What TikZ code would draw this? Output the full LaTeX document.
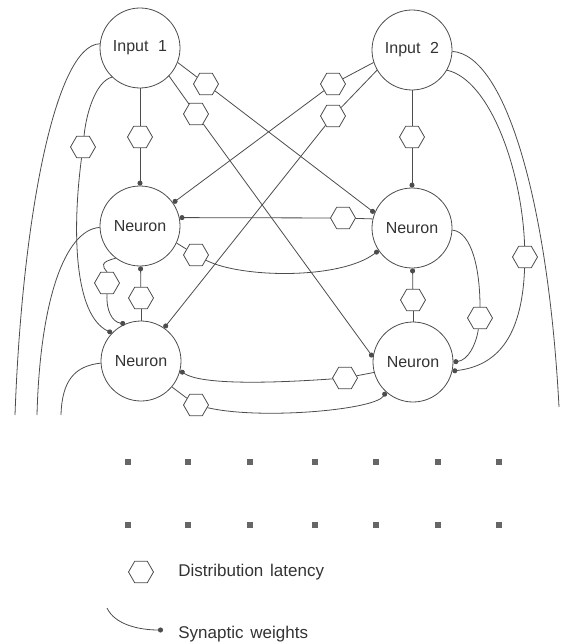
\documentclass[tikz,border=0pt]{standalone}
\usepackage{fontspec}
\setmainfont{Liberation Sans}
\usetikzlibrary{shapes.geometric,arrows.meta}
\begin{document}
\begin{tikzpicture}[x=1pt,y=-1pt,
  line width=0.8pt, draw=black!70,
  neuron/.style={circle,draw=black!70,line width=0.8pt,minimum size=80pt,inner sep=0pt,font=\fontsize{16}{19}\selectfont,text=black!80},
  hexa/.style={regular polygon,regular polygon sides=6,draw=black!70,fill=white,minimum size=25pt,inner sep=0pt},
  syn/.style={-{Circle[length=5pt,width=5pt]}},
  sq/.style={rectangle,fill=black!60,minimum size=6pt,inner sep=0pt},
  legend/.style={anchor=west,font=\fontsize{17}{20}\selectfont,text=black!80,inner sep=0pt}
]
\useasboundingbox (0,0) rectangle (563,644);

% neurons
\node[neuron] (in1) at (140,48) {Input\hspace{0.6em}1};
\node[neuron] (in2) at (412,50) {Input\hspace{0.6em}2};
\node[neuron] (n1) at (140,226) {Neuron};
\node[neuron] (n2) at (412,228) {Neuron};
\node[neuron] (n3) at (141,361) {Neuron};
\node[neuron] (n4) at (413,362) {Neuron};

% latency hexagons
\node[hexa] (h1) at (140,137) {};
\node[hexa] (h2) at (196,114) {};
\node[hexa] (h3) at (206,84) {};
\node[hexa] (h5) at (83,147) {};
\node[hexa] (h6) at (412,137) {};
\node[hexa] (h7) at (333,84) {};
\node[hexa] (h8) at (333,116) {};
\node[hexa] (h10) at (525,257) {};
\node[hexa] (h11) at (343,218) {};
\node[hexa] (h12) at (196,255) {};
\node[hexa] (h13) at (141,298) {};
\node[hexa] (h14) at (107,283) {};
\node[hexa] (h17) at (345,378) {};
\node[hexa] (h18) at (196,405) {};
\node[hexa] (h19) at (413,300) {};
\node[hexa] (h20) at (480,318) {};

% open ends
\coordinate (e1) at (15,415);
\coordinate (e2) at (37,415);
\coordinate (e3) at (61,415);
\coordinate (e4) at (559,407);

% Input 1
\draw (in1) -- (h1); \draw[syn] (h1) -- (n1);
\draw (in1.-44) -- (h2); \draw[syn] (h2) -- (n4.173);
\draw (in1.-21) -- (h3); \draw[syn] (h3) -- (n2.158);
\draw (in1.174) .. controls (55,45) and (22,220) .. (e1);
\draw (in1.-134) .. controls (95,82) and (86,115) .. (h5);
\draw[syn] (h5) .. controls (72,230) and (74,315) .. (n3.136);

% Input 2
\draw (in2) -- (h6); \draw[syn] (h6) -- (n2);
\draw (in2.-162) -- (h7); \draw[syn] (h7) -- (n1.35);
\draw (in2.-150) -- (h8); \draw[syn] (h8) -- (n3.55);
\draw (in2.-2) .. controls (505,55) and (548,200) .. (e4);
\draw (in2.-30) .. controls (490,80) and (522,170) .. (h10);
\draw[syn] (h10) .. controls (522,340) and (495,366) .. (n4.-13);

% neuron to neuron
\draw (n2.167) -- (h11); \draw[syn] (h11) -- (n1.12);
\draw (n1.-25) -- (h12); \draw[syn] (h12) .. controls (240,278) and (340,280) .. (n2.-146);
\draw (n3) -- (h13); \draw[syn] (h13) -- (n1);
\draw (n1.-127) .. controls (100,262) and (102,266) .. (h14.north);
\draw[syn] (h14.south) .. controls (106,310) and (112,322) .. (n3.113);
\draw (n1.182) .. controls (65,230) and (40,300) .. (e2);
\draw (n3.183) .. controls (75,366) and (62,380) .. (e3);
\draw (n4.-165) -- (h17); \draw[syn] (h17) .. controls (260,384) and (200,384) .. (n3.-14);
\draw (n3.-40) -- (h18); \draw[syn] (h18) .. controls (260,420) and (375,410) .. (n4.-132);
\draw (n4) -- (h19); \draw[syn] (h19) -- (n2);
\draw (n2.-3) .. controls (472,232) and (480,270) .. (h20);
\draw[syn] (h20) .. controls (476,345) and (468,360) .. (n4.0);

% continuation dots
\foreach \x [count=\i] in {128,188,250,315,376,438,499} {
  \node[sq] (a\i) at (\x,462) {};
  \node[sq] (b\i) at (\x,525) {};
}

% legend
\node[hexa] (lh) at (141,572) {};
\node[legend] (lt1) at (178,572) {Distribution\hspace{0.4em}latency};
\coordinate (ls) at (107,608);
\coordinate (le) at (163,630);
\draw[syn] (ls) .. controls (115,625) and (140,630) .. (le);
\node[legend] (lt2) at (178,634) {Synaptic\hspace{0.4em}weights};
\end{tikzpicture}
\end{document}
